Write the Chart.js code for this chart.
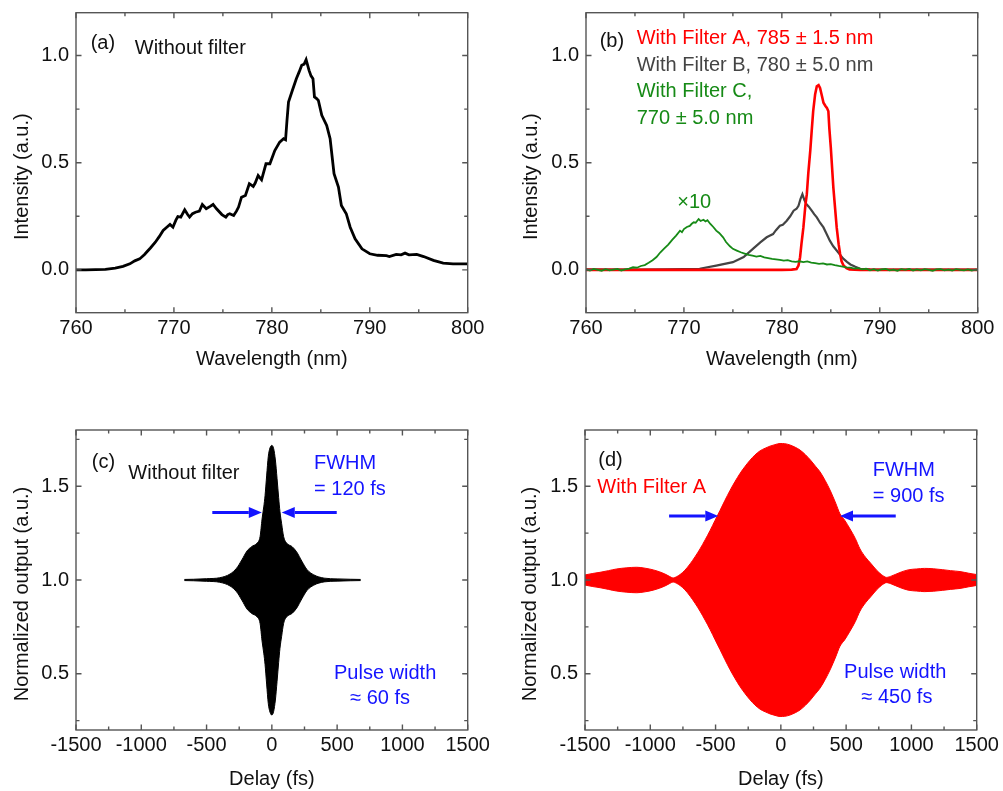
<!DOCTYPE html>
<html>
<head>
<meta charset="utf-8">
<script src="https://cdn.jsdelivr.net/npm/chart.js@4.4.0/dist/chart.umd.min.js"></script>
<style>
  html, body { margin: 0; padding: 0; background: #fff; width: 1003px; height: 791px; overflow: hidden; }
  canvas { position: absolute; }
</style>
</head>
<body>
<canvas id="pa" width="500" height="395" style="left:0px;top:0px"></canvas>
<canvas id="pb" width="503" height="395" style="left:500px;top:0px"></canvas>
<canvas id="pc" width="500" height="396" style="left:0px;top:395px"></canvas>
<canvas id="pd" width="503" height="396" style="left:500px;top:395px"></canvas>
<script>
// ---------- (a) spectrum without filter ----------
const wlA = [760, 761, 762, 763, 764, 764.8, 765.5, 766, 766.5, 767, 767.2, 767.6, 768.1, 768.5, 768.9,
  769.3, 769.6, 769.9, 770.2, 770.4, 770.7, 771.1, 771.4, 771.6, 771.9, 772.2, 772.6, 772.9, 773.3, 773.7,
  774.0, 774.35, 774.9, 775.3, 775.5, 775.7, 776.1, 776.4, 776.6, 776.9, 777.3, 777.7, 778.1, 778.3, 778.6,
  778.95, 779.4, 779.8, 780.3, 780.8, 781.2, 781.4, 781.55, 781.7, 782.1, 782.5, 782.8, 783.05, 783.3, 783.5,
  783.8, 784.0, 784.2, 784.35, 784.55, 784.75, 785.1, 785.6, 785.95, 786.15, 786.35, 786.8, 787.1, 787.6, 788.0,
  788.5, 789.2, 790.0, 790.8, 791.7, 792.0, 792.7, 793.2, 793.6, 794.0, 794.8, 795.5, 796.5, 797.5, 798.5, 800];
const intA = [0.000, 0.000, 0.001, 0.002, 0.008, 0.016, 0.028, 0.042, 0.051, 0.072, 0.082, 0.102, 0.129, 0.155, 0.184,
  0.200, 0.212, 0.199, 0.232, 0.249, 0.246, 0.280, 0.258, 0.246, 0.262, 0.269, 0.274, 0.305, 0.285, 0.296,
  0.305, 0.285, 0.258, 0.246, 0.258, 0.262, 0.254, 0.275, 0.293, 0.339, 0.347, 0.402, 0.389, 0.405, 0.440,
  0.420, 0.495, 0.495, 0.557, 0.596, 0.612, 0.607, 0.700, 0.783, 0.838, 0.892, 0.925, 0.955, 0.960, 0.981,
  0.931, 0.905, 0.892, 0.807, 0.800, 0.791, 0.721, 0.674, 0.612, 0.530, 0.449, 0.386, 0.300, 0.262, 0.199,
  0.145, 0.098, 0.075, 0.068, 0.066, 0.062, 0.072, 0.070, 0.078, 0.070, 0.072, 0.062, 0.044, 0.031, 0.028, 0.028];

// ---------- (b) filtered spectra ----------
const wlFilterA = [760, 770, 780, 781.0, 781.5, 781.7, 781.86, 782.0, 782.2, 782.4, 782.55, 782.7, 782.9, 783.05, 783.2,
  783.4, 783.57, 783.75, 783.9, 784.1, 784.25, 784.45, 784.6, 784.75, 784.85, 785.0, 785.26, 785.45, 785.6, 785.8,
  785.95, 786.1, 786.3, 786.6, 786.9, 788, 790, 800];
const intFilterA = [0, 0, 0, 0.001, 0.004, 0.02, 0.059, 0.12, 0.198, 0.30, 0.353, 0.45, 0.555, 0.65, 0.741,
  0.82, 0.857, 0.862, 0.849, 0.81, 0.78, 0.765, 0.756, 0.74, 0.66, 0.57, 0.384, 0.28, 0.198, 0.12,
  0.074, 0.04, 0.02, 0.008, 0.002, 0, 0, 0];

const wlFilterB = [760, 765, 768, 770, 771.6, 773.3, 775.0, 776.1, 777.1, 777.8, 778.45, 778.8, 779.1, 779.4, 779.8,
  780.1, 780.5, 780.85, 781.2, 781.5, 781.7, 781.9, 782.1, 782.3, 782.5, 782.75, 783.05, 783.3, 783.57, 783.9,
  784.25, 784.55, 784.9, 785.25, 785.6, 785.95, 786.3, 786.65, 787.0, 787.5, 788.0, 789, 792, 800];
const intFilterB = [0.002, 0.001, 0.002, 0.003, 0.005, 0.02, 0.036, 0.06, 0.10, 0.128, 0.152, 0.16, 0.167, 0.185, 0.206,
  0.21, 0.229, 0.25, 0.276, 0.285, 0.299, 0.33, 0.353, 0.325, 0.307, 0.295, 0.276, 0.26, 0.245, 0.22,
  0.198, 0.17, 0.136, 0.11, 0.09, 0.07, 0.051, 0.037, 0.025, 0.014, 0.005, 0.002, 0.001, 0.001];

// Filter C trace, shown magnified ×10
const wlFilterC = [760.0, 760.4, 760.8, 761.2, 761.6, 762.0, 762.4, 762.8, 763.2, 763.6, 764.0,
  764.4, 764.8, 765.2, 765.6, 766.0, 766.4, 766.8, 767.2, 767.6, 768.0, 768.4, 768.8, 769.2, 769.6,
  769.8, 770.0, 770.3, 770.6, 770.8, 771.0, 771.2, 771.5, 771.7, 772.0, 772.2, 772.4, 772.7, 773.0, 773.3, 773.6,
  774.0, 774.3, 774.7, 775.0, 775.4, 775.8, 776.2, 776.6, 777.0, 777.4, 777.8,
  778.2, 778.6, 779.0, 779.4, 779.8, 780.2, 780.6, 781.0, 781.4, 781.8,
  782.2, 782.6, 783.0, 783.4, 783.8, 784.2, 784.6, 785.0, 785.4, 785.8,
  786.2, 786.6, 787.0, 787.4, 787.8, 788.2, 788.6, 789.0, 789.4, 789.8,
  790.2, 790.6, 791.0, 791.4, 791.8, 792.2, 792.6, 793.0, 793.4, 793.8,
  794.2, 794.6, 795.0, 795.4, 795.8, 796.2, 796.6, 797.0, 797.4, 797.8,
  798.2, 798.6, 799.0, 799.4, 799.8, 800.0];
const intFilterC = [0.002, -0.003, 0.004, 0.000, -0.004, 0.003, -0.002, 0.001, 0.004, -0.003, 0.002,
  0.006, 0.012, 0.010, 0.018, 0.022, 0.033, 0.045, 0.060, 0.082, 0.100, 0.118, 0.140, 0.160, 0.183,
  0.176, 0.190, 0.200, 0.205, 0.215, 0.222, 0.220, 0.237, 0.228, 0.234, 0.226, 0.232, 0.214, 0.200, 0.183, 0.172,
  0.152, 0.130, 0.110, 0.098, 0.090, 0.082, 0.076, 0.070, 0.066, 0.062, 0.065,
  0.058, 0.055, 0.051, 0.049, 0.047, 0.043, 0.045, 0.040, 0.037, 0.040,
  0.036, 0.039, 0.034, 0.031, 0.028, 0.030, 0.025, 0.027, 0.022, 0.018,
  0.015, 0.012, 0.010, 0.006, 0.008, 0.002, 0.005, -0.002, 0.003, -0.003,
  0.002, 0.004, -0.002, 0.001, -0.004, 0.003, 0.000, 0.004, -0.003, 0.002,
  -0.002, 0.003, 0.000, -0.004, 0.002, 0.003, -0.002, 0.001, -0.003, 0.003,
  0.000, -0.002, 0.002, -0.003, 0.001, 0.000];

// ---------- (c) autocorrelation without filter: fringe envelope ----------
const delayC = [-670, -600, -500, -400, -320, -270, -230, -190, -155, -115, -90, -75, -62, -52, -40, -27, -14, 0,
  14, 27, 40, 52, 62, 75, 90, 115, 155, 190, 230, 270, 320, 400, 500, 600, 680];
const upperC = [1.003, 1.004, 1.007, 1.012, 1.032, 1.063, 1.107, 1.155, 1.178, 1.196, 1.232, 1.325, 1.390, 1.450, 1.555, 1.660, 1.705, 1.718,
  1.700, 1.640, 1.540, 1.440, 1.365, 1.300, 1.232, 1.196, 1.178, 1.150, 1.100, 1.055, 1.028, 1.010, 1.006, 1.004, 1.003];
const lowerC = [0.997, 0.996, 0.993, 0.988, 0.968, 0.937, 0.893, 0.845, 0.822, 0.804, 0.768, 0.675, 0.610, 0.550, 0.445, 0.340, 0.295, 0.280,
  0.300, 0.360, 0.460, 0.560, 0.635, 0.700, 0.768, 0.804, 0.822, 0.850, 0.900, 0.945, 0.972, 0.990, 0.994, 0.996, 0.997];

// ---------- (d) autocorrelation with filter A: fringe envelope ----------
const delayD = [-1500, -1440, -1385, -1320, -1257, -1180, -1104, -1040, -977, -930, -888, -855, -824, -800, -772,
  -735, -695, -657, -619, -580, -542, -504, -466, -428, -389, -351, -313, -275, -236, -198, -159, -120, -83, -45, -6,
  30, 70, 110, 147, 190, 230, 265, 300, 340, 380, 420, 453, 490, 530, 570, 606, 650, 690, 734, 770,
  810, 850, 912, 975, 1040, 1100, 1168, 1240, 1300, 1372, 1440, 1500];
const upperD = [1.027, 1.035, 1.041, 1.050, 1.059, 1.065, 1.068, 1.063, 1.054, 1.044, 1.032, 1.020, 1.011, 1.017, 1.029,
  1.052, 1.086, 1.124, 1.166, 1.214, 1.264, 1.318, 1.371, 1.425, 1.478, 1.525, 1.568, 1.605, 1.639, 1.667, 1.689, 1.703, 1.714, 1.722, 1.728,
  1.727, 1.720, 1.708, 1.693, 1.667, 1.637, 1.607, 1.577, 1.530, 1.475, 1.410, 1.353, 1.318, 1.272, 1.222, 1.166, 1.120, 1.088, 1.052, 1.029,
  1.014, 1.022, 1.040, 1.054, 1.059, 1.062, 1.060, 1.055, 1.050, 1.045, 1.036, 1.029];
const lowerD = [0.973, 0.965, 0.959, 0.950, 0.941, 0.935, 0.932, 0.937, 0.946, 0.956, 0.968, 0.980, 0.989, 0.983, 0.971,
  0.948, 0.914, 0.876, 0.834, 0.786, 0.736, 0.682, 0.629, 0.575, 0.522, 0.475, 0.432, 0.395, 0.361, 0.333, 0.311, 0.297, 0.286, 0.278, 0.272,
  0.273, 0.280, 0.292, 0.307, 0.333, 0.363, 0.393, 0.423, 0.470, 0.525, 0.590, 0.647, 0.682, 0.728, 0.778, 0.834, 0.880, 0.912, 0.948, 0.971,
  0.986, 0.978, 0.960, 0.946, 0.941, 0.938, 0.940, 0.945, 0.950, 0.955, 0.964, 0.971];

// ---------- tick values ----------
const wlTicks = [760, 770, 780, 790, 800];
const wlMinor = [765, 775, 785, 795];
const intTicks = [0.0, 0.5, 1.0];
const intMinor = [0.25, 0.75];
const delayTicks = [-1500, -1000, -500, 0, 500, 1000, 1500];
const delayMinor = [-1250, -750, -250, 250, 750, 1250];
const normTicks = [0.5, 1.0, 1.5];
const normMinor = [0.25, 0.75, 1.25, 1.75];

const FONT = "'Liberation Sans', Arial, Helvetica, sans-serif";
const BLUE = '#1414ff';
const RED = '#ff0000';
const GREY = '#444444';
const GREEN = '#168a16';
const INK = '#111111';

Chart.defaults.font.family = FONT;
Chart.defaults.font.size = 20;
Chart.defaults.color = INK;

const pts = (xs, ys) => xs.map((x, i) => ({ x, y: ys[i] }));

// Frame, inward ticks, arrows, text notes and rotated y title
function makeDecor(cfg) {
  return {
    id: 'decor',
    afterDatasetsDraw(chart) {
      const { ctx, chartArea: a } = chart;
      const sx = chart.scales.x, sy = chart.scales.y;
      ctx.save();
      ctx.strokeStyle = '#555555';
      ctx.lineWidth = 1.4;
      const xMarks = (vals, len) => vals.forEach(v => {
        const p = sx.getPixelForValue(v);
        ctx.beginPath();
        ctx.moveTo(p, a.bottom); ctx.lineTo(p, a.bottom - len);
        ctx.moveTo(p, a.top); ctx.lineTo(p, a.top + len);
        ctx.stroke();
      });
      const yMarks = (vals, len) => vals.forEach(v => {
        const p = sy.getPixelForValue(v);
        ctx.beginPath();
        ctx.moveTo(a.left, p); ctx.lineTo(a.left + len, p);
        ctx.moveTo(a.right, p); ctx.lineTo(a.right - len, p);
        ctx.stroke();
      });
      xMarks(cfg.xTicks, 5.5); xMarks(cfg.xMinor, 3.5);
      yMarks(cfg.yTicks, 5.5); yMarks(cfg.yMinor, 3.5);
      ctx.strokeRect(a.left, a.top, a.right - a.left, a.bottom - a.top);

      (cfg.arrows || []).forEach(ar => {
        const x1 = sx.getPixelForValue(ar.x1), x2 = sx.getPixelForValue(ar.x2);
        const y = sy.getPixelForValue(ar.y);
        const dir = Math.sign(x2 - x1);
        const head = 13;
        ctx.strokeStyle = BLUE; ctx.fillStyle = BLUE; ctx.lineWidth = 3;
        ctx.beginPath(); ctx.moveTo(x1, y); ctx.lineTo(x2 - dir * head, y); ctx.stroke();
        ctx.beginPath();
        ctx.moveTo(x2, y); ctx.lineTo(x2 - dir * head, y - 5.5); ctx.lineTo(x2 - dir * head, y + 5.5);
        ctx.closePath(); ctx.fill();
      });

      ctx.textBaseline = 'middle';
      ctx.font = '20px ' + FONT;
      (cfg.notes || []).forEach(n => {
        ctx.fillStyle = n.color || INK;
        ctx.textAlign = n.align || 'left';
        ctx.fillText(n.text, sx.getPixelForValue(n.x), sy.getPixelForValue(n.y));
      });

      ctx.fillStyle = INK;
      ctx.textAlign = 'center';
      ctx.translate(cfg.yTitleX, (a.top + a.bottom) / 2 + 14);
      ctx.rotate(-Math.PI / 2);
      ctx.fillText(cfg.yTitle, 0, 0);
      ctx.restore();
    }
  };
}

function makePanel(id, cfg) {
  return new Chart(document.getElementById(id), {
    type: 'line',
    data: { datasets: cfg.datasets },
    options: {
      responsive: false,
      animation: false,
      devicePixelRatio: 1,
      events: [],
      layout: { padding: { left: 0, top: cfg.top, right: cfg.right, bottom: 0 } },
      elements: { point: { radius: 0 } },
      plugins: { legend: { display: false }, tooltip: { enabled: false } },
      scales: {
        x: {
          type: 'linear', min: cfg.xMin, max: cfg.xMax,
          afterBuildTicks: s => { s.ticks = cfg.xTicks.map(v => ({ value: v })); },
          afterFit: s => { s.height = cfg.bottomH; },
          grid: { display: false, drawTicks: false },
          border: { display: false },
          ticks: { padding: 3.5, color: INK, maxRotation: 0, autoSkip: false, callback: v => String(v) },
          title: { display: true, text: cfg.xTitle, color: INK, padding: { top: 0, bottom: cfg.xTitlePad } }
        },
        y: {
          type: 'linear', min: cfg.yMin, max: cfg.yMax,
          afterBuildTicks: s => { s.ticks = cfg.yTicks.map(v => ({ value: v })); },
          afterFit: s => { s.width = cfg.leftW; },
          grid: { display: false, drawTicks: true, tickLength: 7 },
          border: { display: false },
          ticks: { padding: 0, color: INK, autoSkip: false, callback: v => v.toFixed(1) }
        }
      }
    },
    plugins: [makeDecor(cfg)]
  });
}

// (a)
makePanel('pa', {
  top: 12.7, right: 32.3, leftW: 76, bottomH: 82.3, xTitlePad: 23.5, yTitleX: 22.5,
  xMin: 760, xMax: 800, yMin: -0.2, yMax: 1.2,
  xTicks: wlTicks, xMinor: wlMinor, yTicks: intTicks, yMinor: intMinor,
  xTitle: 'Wavelength (nm)', yTitle: 'Intensity (a.u.)',
  datasets: [
    { data: pts(wlA, intA), borderColor: '#000000', borderWidth: 2.8, tension: 0, fill: false }
  ],
  notes: [
    { text: '(a)', x: 761.5, y: 1.057 },
    { text: 'Without filter', x: 766.0, y: 1.034 }
  ]
});

// (b)
makePanel('pb', {
  top: 12.7, right: 25.3, leftW: 86, bottomH: 82.3, xTitlePad: 23.5, yTitleX: 31.7,
  xMin: 760, xMax: 800, yMin: -0.2, yMax: 1.2,
  xTicks: wlTicks, xMinor: wlMinor, yTicks: intTicks, yMinor: intMinor,
  xTitle: 'Wavelength (nm)', yTitle: 'Intensity (a.u.)',
  datasets: [
    { data: pts(wlFilterC, intFilterC), borderColor: GREEN, borderWidth: 1.8, tension: 0, fill: false, order: 0 },
    { data: pts(wlFilterA, intFilterA), borderColor: RED, borderWidth: 2.6, tension: 0, fill: false, order: 1 },
    { data: pts(wlFilterB, intFilterB), borderColor: GREY, borderWidth: 2.2, tension: 0, fill: false, order: 2 }
  ],
  notes: [
    { text: '(b)', x: 761.4, y: 1.066 },
    { text: 'With Filter A, 785 \u00b1 1.5 nm', x: 765.18, y: 1.080, color: RED },
    { text: 'With Filter B, 780 \u00b1 5.0 nm', x: 765.18, y: 0.955, color: GREY },
    { text: 'With Filter C,', x: 765.18, y: 0.831, color: GREEN },
    { text: '770 \u00b1 5.0 nm', x: 765.18, y: 0.708, color: GREEN },
    { text: '\u00d710', x: 771.05, y: 0.314, color: GREEN, align: 'center' }
  ]
});

// (c)
makePanel('pc', {
  top: 35, right: 32.3, leftW: 76, bottomH: 61, xTitlePad: 0, yTitleX: 22.5,
  xMin: -1500, xMax: 1500, yMin: 0.2, yMax: 1.8,
  xTicks: delayTicks, xMinor: delayMinor, yTicks: normTicks, yMinor: normMinor,
  xTitle: 'Delay (fs)', yTitle: 'Normalized output (a.u.)',
  datasets: [
    { data: pts(delayC, upperC), borderColor: '#000000', borderWidth: 1, cubicInterpolationMode: 'monotone', fill: false },
    { data: pts(delayC, lowerC), borderColor: '#000000', borderWidth: 1, cubicInterpolationMode: 'monotone', fill: '-1', backgroundColor: '#000000' }
  ],
  arrows: [
    { x1: -456, x2: -77, y: 1.36 },
    { x1: 497, x2: 76, y: 1.36 }
  ],
  notes: [
    { text: '(c)', x: -1379, y: 1.625 },
    { text: 'Without filter', x: -1099, y: 1.568 },
    { text: 'FWHM', x: 323, y: 1.621, color: BLUE },
    { text: '= 120 fs', x: 323, y: 1.482, color: BLUE },
    { text: 'Pulse width', x: 476, y: 0.503, color: BLUE },
    { text: '\u2248 60 fs', x: 829, y: 0.366, color: BLUE, align: 'center' }
  ]
});

// (d)
makePanel('pd', {
  top: 35, right: 26.3, leftW: 85, bottomH: 61, xTitlePad: 0, yTitleX: 30,
  xMin: -1500, xMax: 1500, yMin: 0.2, yMax: 1.8,
  xTicks: delayTicks, xMinor: delayMinor, yTicks: normTicks, yMinor: normMinor,
  xTitle: 'Delay (fs)', yTitle: 'Normalized output (a.u.)',
  datasets: [
    { data: pts(delayD, upperD), borderColor: RED, borderWidth: 1, cubicInterpolationMode: 'monotone', fill: false },
    { data: pts(delayD, lowerD), borderColor: RED, borderWidth: 1, cubicInterpolationMode: 'monotone', fill: '-1', backgroundColor: RED }
  ],
  arrows: [
    { x1: -856, x2: -479, y: 1.341 },
    { x1: 880, x2: 453, y: 1.341 }
  ],
  notes: [
    { text: '(d)', x: -1398, y: 1.639 },
    { text: 'With Filter A', x: -1406, y: 1.491, color: RED },
    { text: 'FWHM', x: 704, y: 1.582, color: BLUE },
    { text: '= 900 fs', x: 704, y: 1.443, color: BLUE },
    { text: 'Pulse width', x: 484, y: 0.505, color: BLUE },
    { text: '\u2248 450 fs', x: 889, y: 0.371, color: BLUE, align: 'center' }
  ]
});
</script>
</body>
</html>
